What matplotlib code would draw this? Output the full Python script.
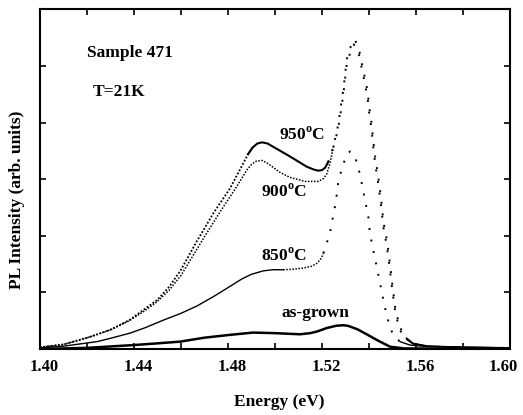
import numpy as np
import matplotlib
matplotlib.use("Agg")
import matplotlib.pyplot as plt
import matplotlib.transforms as mtransforms
from matplotlib.ticker import MultipleLocator, NullFormatter

plt.rcParams['font.family'] = ['Liberation Serif', 'DejaVu Serif']
plt.rcParams['mathtext.fontset'] = 'custom'
plt.rcParams['mathtext.rm'] = 'Liberation Serif'
plt.rcParams['mathtext.bf'] = 'Liberation Serif:bold'

# ---- data ----
e950 = [1.400, 1.410, 1.421, 1.430, 1.438, 1.444, 1.450, 1.455, 1.460, 1.4667, 1.4738,
        1.4809, 1.4865, 1.4885, 1.4905, 1.4925, 1.4945, 1.4968, 1.4993, 1.5064, 1.5135,
        1.5165, 1.5184, 1.5200, 1.5213, 1.5226,
        1.5240, 1.5250, 1.5262, 1.5272, 1.5281, 1.5291, 1.5298, 1.5305, 1.5319, 1.5338,
        1.5355, 1.5372, 1.5383, 1.5394, 1.5401, 1.5411, 1.5418, 1.5426, 1.5440, 1.5447,
        1.5454, 1.5461, 1.5475, 1.5485, 1.5497, 1.5511, 1.5530, 1.5560, 1.5587, 1.5650,
        1.5800, 1.6000]
i950 = [0.03, 0.08, 0.21, 0.34, 0.51, 0.69, 0.87, 1.10, 1.40, 1.90, 2.40,
        2.84, 3.28, 3.44, 3.56, 3.63, 3.65, 3.63, 3.57, 3.40, 3.22,
        3.17, 3.15, 3.16, 3.20, 3.30,
        3.46, 3.62, 3.81, 4.05, 4.31, 4.58, 4.84, 5.11, 5.31, 5.47,
        5.34, 4.99, 4.78, 4.55, 4.27, 3.99, 3.69, 3.40, 3.02, 2.80,
        2.55, 2.25, 1.95, 1.65, 1.22, 0.75, 0.39, 0.19, 0.10, 0.05,
        0.03, 0.02]

e900 = [1.400, 1.410, 1.421, 1.430, 1.438, 1.444, 1.450, 1.455, 1.460, 1.4695, 1.4766,
        1.4837, 1.4880, 1.4902, 1.4922, 1.4945, 1.4965, 1.5021, 1.5064, 1.5128, 1.5184,
        1.5206, 1.5220,
        1.5234, 1.5248, 1.5262, 1.5272, 1.5281, 1.5291, 1.5298, 1.5305, 1.5319, 1.5335,
        1.5355, 1.5372, 1.5383, 1.5394, 1.5401, 1.5411, 1.5418, 1.5426, 1.5440, 1.5447,
        1.5454, 1.5461, 1.5475, 1.5485, 1.5497, 1.5511, 1.5530, 1.5560, 1.5587, 1.5650,
        1.5800, 1.6000]
i900 = [0.03, 0.08, 0.21, 0.34, 0.50, 0.66, 0.84, 1.04, 1.30, 1.95, 2.42,
        2.87, 3.16, 3.27, 3.32, 3.33, 3.29, 3.12, 3.03, 2.96, 2.96,
        3.01, 3.09,
        3.28, 3.56, 3.78, 3.98, 4.22, 4.50, 4.76, 5.02, 5.22, 5.38,
        5.25, 4.90, 4.68, 4.44, 4.16, 3.87, 3.57, 3.28, 2.90, 2.68,
        2.43, 2.15, 1.84, 1.54, 1.11, 0.67, 0.34, 0.17, 0.09, 0.05,
        0.03, 0.02]

e850 = [1.400, 1.410, 1.4243, 1.4310, 1.4383, 1.4450, 1.4525, 1.4600, 1.4668, 1.4740,
        1.4810, 1.4860, 1.4900, 1.4950, 1.4990, 1.5035, 1.5080, 1.5120,
        1.5155, 1.5177, 1.5195, 1.5206, 1.5220, 1.5234, 1.5241, 1.5255, 1.5262, 1.5269,
        1.5284, 1.5305, 1.5320, 1.5340, 1.5354, 1.5369, 1.5383, 1.5397, 1.5404, 1.5418,
        1.5433, 1.5447, 1.5461, 1.5475, 1.5490, 1.5504, 1.5532, 1.5574, 1.5650, 1.5800,
        1.6000]
i850 = [0.02, 0.05, 0.13, 0.20, 0.28, 0.38, 0.51, 0.63, 0.76, 0.93,
        1.11, 1.24, 1.32, 1.38, 1.40, 1.40, 1.41, 1.43,
        1.46, 1.51, 1.59, 1.69, 1.87, 2.04, 2.22, 2.51, 2.70, 2.95,
        3.18, 3.44, 3.49, 3.40, 3.22, 2.93, 2.63, 2.34, 2.04, 1.75,
        1.45, 1.16, 0.87, 0.60, 0.38, 0.24, 0.13, 0.07, 0.04, 0.03,
        0.02]

eag = [1.400, 1.420, 1.440, 1.4500, 1.4596, 1.4700, 1.4809, 1.4907, 1.5000, 1.5106,
       1.5150, 1.5180, 1.5220, 1.5260, 1.5290, 1.5310, 1.5350, 1.5390, 1.5420, 1.5447,
       1.5490, 1.5550, 1.6000]
iag = [0.00, 0.02, 0.07, 0.10, 0.13, 0.20, 0.25, 0.29, 0.28, 0.26,
       0.28, 0.31, 0.37, 0.41, 0.42, 0.41, 0.35, 0.26, 0.19, 0.13,
       0.04, 0.01, 0.00]

labels = ["950$^{\\mathbf{o}}$C", "900$^{\\mathbf{o}}$C", "850$^{\\mathbf{o}}$C", "as-grown"]
xticks = [1.40, 1.44, 1.48, 1.52, 1.56, 1.60]
xticklabels = ["1.40", "1.44", "1.48", "1.52", "1.56", "1.60"]

fig = plt.figure(figsize=(5.23, 4.15), dpi=100)
ax = fig.add_axes([40/523, 1-349/415, 470/523, (349-9.3)/415])

dense = (0, (1, 1))
sparse = (0, (1, 5))


def seg(x, y, lo, hi, **kw):
    x = np.asarray(x); y = np.asarray(y)
    m = (x >= lo) & (x <= hi)
    ax.plot(x[m], y[m], color='black', **kw)


# 950
seg(e950, i950, 1.40, 1.4905, ls=dense, lw=1.3)
seg(e950, i950, 1.4885, 1.5226, ls='-', lw=1.5)
seg(e950, i950, 1.5226, 1.5560, ls=sparse, lw=1.4)
seg(e950, i950, 1.5560, 1.60, ls='-', lw=1.2)
# 900
seg(e900, i900, 1.40, 1.5248, ls=dense, lw=1.1)
seg(e900, i900, 1.5248, 1.5560, ls=sparse, lw=1.4)
seg(e900, i900, 1.5560, 1.60, ls='-', lw=1.0)
# 850
seg(e850, i850, 1.40, 1.5035, ls='-', lw=1.0)
seg(e850, i850, 1.5035, 1.5206, ls=dense, lw=1.1)
seg(e850, i850, 1.5206, 1.5532, ls=sparse, lw=1.4)
seg(e850, i850, 1.5532, 1.60, ls='-', lw=1.0)
# as-grown
ax.plot(eag, iag, color='black', lw=1.8)

ax.set_xlim(1.40, 1.60)
ax.set_ylim(0, 6)
ax.set_xticks(xticks)
ax.set_xticklabels(xticklabels)
ax.xaxis.set_minor_locator(MultipleLocator(0.02))
ax.yaxis.set_major_locator(MultipleLocator(1))
ax.yaxis.set_major_formatter(NullFormatter())
ax.tick_params(which='both', direction='in', top=True, right=True, length=4, width=1.2)
ax.tick_params(axis='x', labelsize=12, pad=7)
tls = ax.get_xticklabels()
for k, t in enumerate(tls):
    t.set_fontweight('bold')
    dx = -7 if k == len(tls) - 1 else 4
    t.set_transform(t.get_transform() +
                    mtransforms.ScaledTranslation(dx/100, 0, fig.dpi_scale_trans))
for s in ax.spines.values():
    s.set_linewidth(1.5)

tk = dict(fontsize=12.5, fontweight='bold', color='black')
ax.text(1.5115, 3.78, labels[0], ha='center', va='center', **tk)
ax.text(1.5038, 2.77, labels[1], ha='center', va='center', **tk)
ax.text(1.5038, 1.64, labels[2], ha='center', va='center', **tk)
ax.text(1.5170, 0.64, labels[3], ha='center', va='center', **tk)
ax.text(1.4200, 5.23, "Sample 471", ha='left', va='center', **tk)
ax.text(1.4226, 4.54, "T=21K", ha='left', va='center', **tk)

fig.text(17/523, 1-200/415, "PL Intensity (arb. units)", rotation=90,
         ha='center', va='center', **tk)
fig.text(279/523, 1-402/415, "Energy (eV)", ha='center', va='center', **tk)

fig.savefig("out.png", dpi=100)
